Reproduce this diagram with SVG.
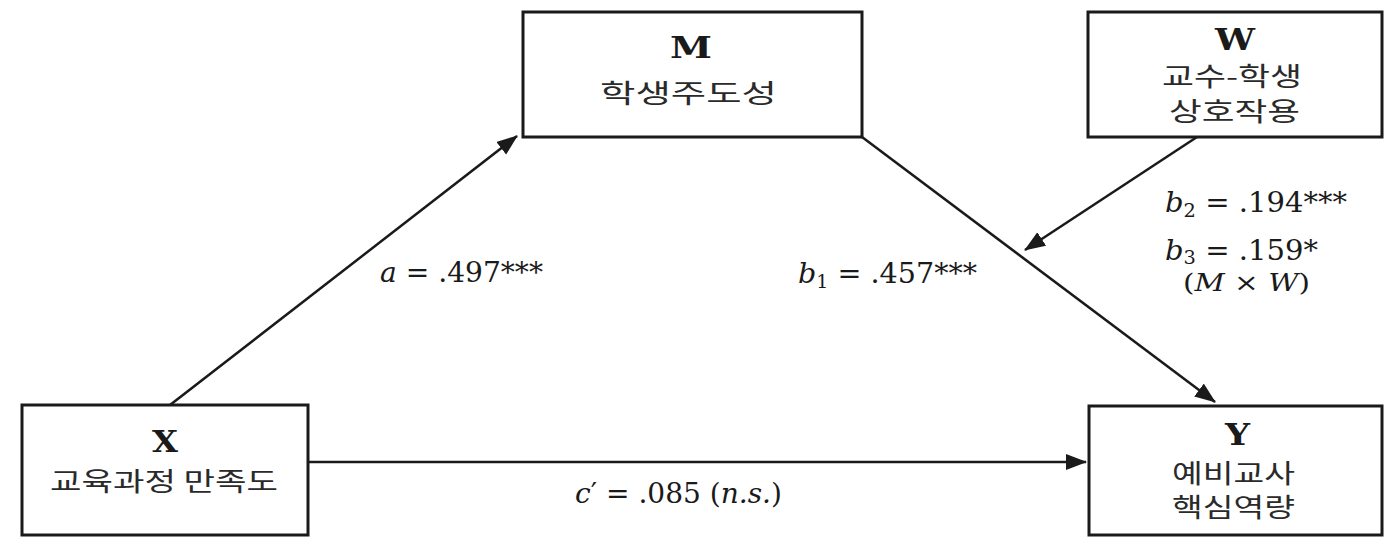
<svg xmlns="http://www.w3.org/2000/svg" width="1400" height="550" viewBox="0 0 1400 550">
<style>
.box{fill:#fff;stroke:#1a1a1a;stroke-width:3}
.ln{fill:none;stroke:#1a1a1a;stroke-width:2.5}
.hd{font-family:"DejaVu Serif","Liberation Serif",serif;font-weight:bold;font-size:29px;fill:#1a1a1a}
.ko{font-family:"Noto Sans CJK KR","Noto Sans",sans-serif;font-size:26px;fill:#2a2a2a}
.lb{font-family:"DejaVu Serif","Liberation Serif",serif;font-size:27px;fill:#1a1a1a}
.sm{font-size:25px}
.it{font-style:italic}
.sub{font-size:18px}
</style>
<defs>
<marker id="arr" markerUnits="userSpaceOnUse" markerWidth="22" markerHeight="17" refX="20" refY="8" orient="auto">
<path d="M0,0 L21,8 L0,16 Z" fill="#1a1a1a"/>
</marker>
</defs>
<rect width="1400" height="550" fill="#fff"/>
<g id="connectors">
<line class="ln" x1="170" y1="405" x2="517" y2="136" marker-end="url(#arr)"/>
<line class="ln" x1="862" y1="137" x2="1215" y2="402" marker-end="url(#arr)"/>
<line class="ln" x1="1197" y1="137" x2="1025" y2="250" marker-end="url(#arr)"/>
<line class="ln" x1="308" y1="462" x2="1086" y2="462" marker-end="url(#arr)"/>
</g>
<g id="node-M">
<rect class="box" x="523" y="12" width="339" height="125"/>
<text class="hd" x="670" y="58" textLength="42" lengthAdjust="spacingAndGlyphs">M</text>
<text class="ko" x="600" y="103" textLength="177" lengthAdjust="spacingAndGlyphs">학생주도성</text>
</g>
<g id="node-W">
<rect class="box" x="1088" y="12" width="294" height="125"/>
<text class="hd" x="1215" y="50" textLength="40" lengthAdjust="spacingAndGlyphs">W</text>
<text class="ko" x="1162" y="86" textLength="140" lengthAdjust="spacingAndGlyphs">교수-학생</text>
<text class="ko" x="1169" y="121" textLength="131" lengthAdjust="spacingAndGlyphs">상호작용</text>
</g>
<g id="node-X">
<rect class="box" x="22" y="405" width="286" height="130"/>
<text class="hd" x="152" y="452" textLength="26" lengthAdjust="spacingAndGlyphs">X</text>
<text class="ko" x="50" y="491" textLength="228" lengthAdjust="spacingAndGlyphs">교육과정 만족도</text>
</g>
<g id="node-Y">
<rect class="box" x="1089" y="406" width="293" height="129"/>
<text class="hd" x="1225" y="445" textLength="25" lengthAdjust="spacingAndGlyphs">Y</text>
<text class="ko" x="1172" y="483" textLength="123" lengthAdjust="spacingAndGlyphs">예비교사</text>
<text class="ko" x="1172" y="517" textLength="123" lengthAdjust="spacingAndGlyphs">핵심역량</text>
</g>
<g id="labels">
<text class="lb" x="380" y="282" textLength="163" lengthAdjust="spacingAndGlyphs"><tspan class="it">a</tspan> = .497***</text>
<text class="lb" x="798" y="283" textLength="179" lengthAdjust="spacingAndGlyphs"><tspan class="it">b</tspan><tspan class="sub" dy="5">1</tspan><tspan dy="-5"> = .457***</tspan></text>
<text class="lb" x="1165" y="212" textLength="182" lengthAdjust="spacingAndGlyphs"><tspan class="it">b</tspan><tspan class="sub" dy="5">2</tspan><tspan dy="-5"> = .194***</tspan></text>
<text class="lb" x="1165" y="260" textLength="153" lengthAdjust="spacingAndGlyphs"><tspan class="it">b</tspan><tspan class="sub" dy="4">3</tspan><tspan dy="-4"> = .159*</tspan></text>
<text class="lb sm" x="1183" y="291" textLength="127" lengthAdjust="spacingAndGlyphs">(<tspan class="it">M</tspan> × <tspan class="it">W</tspan>)</text>
<text class="lb" x="575" y="503" textLength="207" lengthAdjust="spacingAndGlyphs"><tspan class="it">c</tspan>′ = .085 (<tspan class="it">n.s.</tspan>)</text>
</g>
</svg>
